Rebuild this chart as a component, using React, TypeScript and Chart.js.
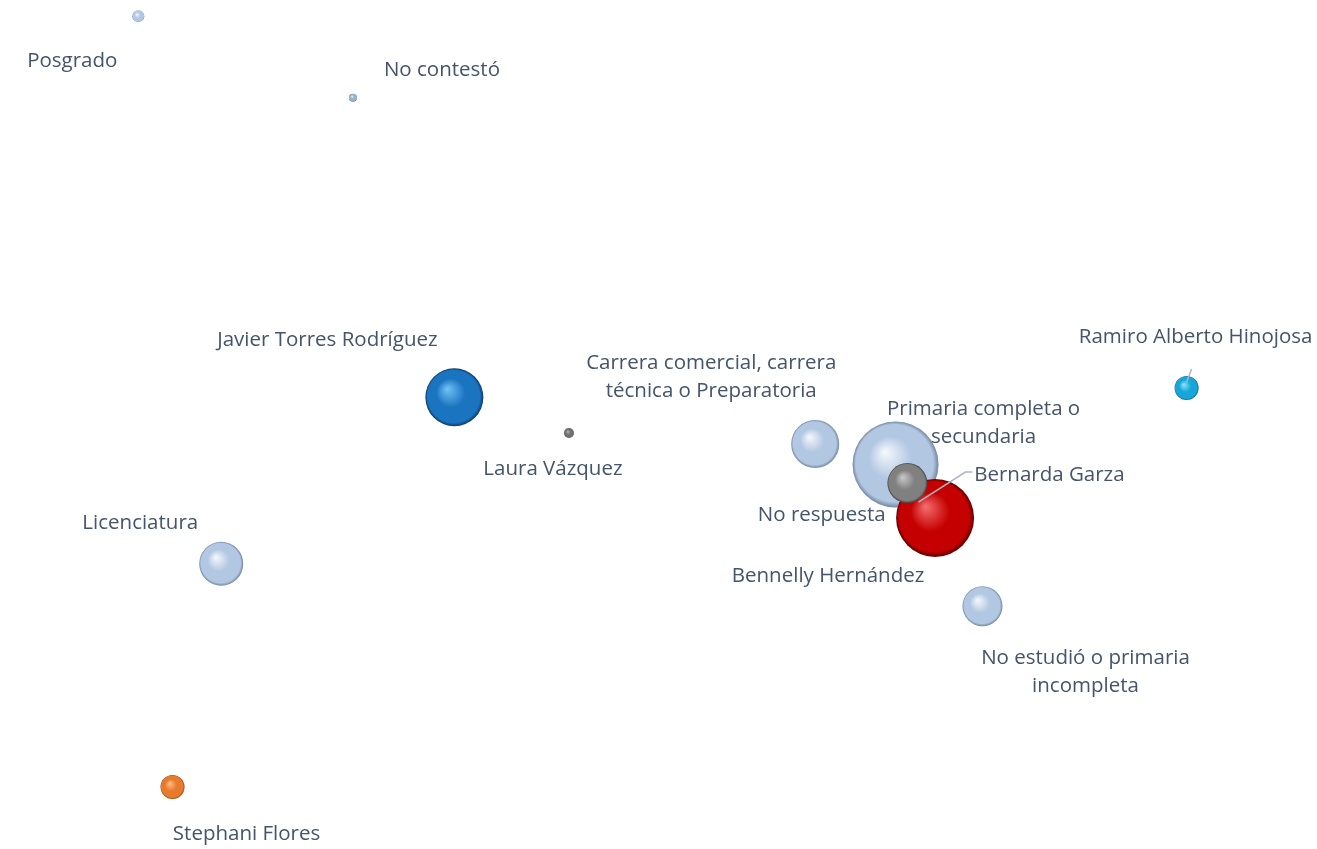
import React, { useEffect, useRef } from "react";
import { Chart, registerables } from "chart.js";

Chart.register(...registerables);

// Data (x, y in chart units 0-100; size = bubble radius)
const names = [
  "Posgrado",
  "No contestó",
  "Licenciatura",
  "Carrera comercial, carrera técnica o Preparatoria",
  "Primaria completa o secundaria",
  "No respuesta",
  "No estudió o primaria incompleta",
  "Javier Torres Rodríguez",
  "Laura Vázquez",
  "Bennelly Hernández",
  "Bernarda Garza",
  "Ramiro Alberto Hinojosa",
  "Stephani Flores",
];
const xValues = [10.5, 26.8, 16.8, 61.9, 68.0, 69.0, 74.6, 34.5, 43.2, 71.0, 68.9, 90.1, 13.1];
const yValues = [98.1, 88.5, 33.6, 47.7, 45.3, 42.9, 28.6, 53.2, 49.0, 39.0, 43.1, 54.3, 7.3];
const sizes = [6, 4, 22, 24, 43, 14, 20, 29, 5, 39, 20, 12, 12];
const colorKeys = [
  "lightblue", "smallblue", "lightblue", "lightblue", "lightblue", "lightblue", "lightblue",
  "blue", "smallgray", "red", "gray", "cyan", "orange",
];

// styling
const palettes: Record<string, [string, string, string]> = {
  lightblue: ["#F6F9FD", "#B2C7E2", "#7386A4"],
  smallblue: ["#E8EEF6", "#9AAFCB", "#5E7190"],
  blue: ["#72C4F4", "#1B74C0", "#0A3A66"],
  red: ["#F47070", "#C40000", "#5E0000"],
  gray: ["#CACACA", "#808080", "#444444"],
  smallgray: ["#B8B8B8", "#707070", "#3A3A3A"],
  cyan: ["#96E4F8", "#16A6D9", "#0A6688"],
  orange: ["#FBC08A", "#E87A2C", "#94420E"],
};

// label anchor offsets (pixels, relative to bubble centre), lines of text
const labelLayout: Record<string, { dx: number; dy: number; lines: string[] }> = {
  "Posgrado": { dx: -66, dy: 45, lines: ["Posgrado"] },
  "No contestó": { dx: 89, dy: -27, lines: ["No contestó"] },
  "Licenciatura": { dx: -81, dy: -41, lines: ["Licenciatura"] },
  "Carrera comercial, carrera técnica o Preparatoria": { dx: -104, dy: -67, lines: ["Carrera comercial, carrera", "técnica o Preparatoria"] },
  "Primaria completa o secundaria": { dx: 88, dy: -41, lines: ["Primaria completa o", "secundaria"] },
  "No respuesta": { dx: -87, dy: 30, lines: ["No respuesta"] },
  "No estudió o primaria incompleta": { dx: 103, dy: 66, lines: ["No estudió o primaria", "incompleta"] },
  "Javier Torres Rodríguez": { dx: -127, dy: -57, lines: ["Javier Torres Rodríguez"] },
  "Laura Vázquez": { dx: -16, dy: 36, lines: ["Laura Vázquez"] },
  "Bennelly Hernández": { dx: -107, dy: 58, lines: ["Bennelly Hernández"] },
  "Bernarda Garza": { dx: 142, dy: -8, lines: ["Bernarda Garza"] },
  "Ramiro Alberto Hinojosa": { dx: 9, dy: -51, lines: ["Ramiro Alberto Hinojosa"] },
  "Stephani Flores": { dx: 74, dy: 47, lines: ["Stephani Flores"] },
};

const leaderLines: Record<string, [number, number][]> = {
  "Bernarda Garza": [[11, 19], [58, -11], [65, -11]],
  "Ramiro Alberto Hinojosa": [[0, -6], [5, -19]],
};

const FONT = "20.5px 'Open Sans', 'Noto Sans', sans-serif";
const LINE_H = 28;

const spherePlugin = {
  id: "sphereShading",
  beforeDatasetsDraw(chart: any) {
    const ctx = chart.ctx;
    const meta = chart.getDatasetMeta(0);
    meta.data.forEach((el: any, i: number) => {
      const cx = el.x, cy = el.y, r = el.options.radius;
      if (![cx, cy, r].every(Number.isFinite)) return;
      const [hi, base, edge] = palettes[colorKeys[i]];
      const g = ctx.createRadialGradient(cx - r * 0.25, cy - r * 0.3, 0, cx, cy, r);
      g.addColorStop(0, hi);
      g.addColorStop(0.5, base);
      g.addColorStop(0.9, base);
      g.addColorStop(1, edge);
      el.options.backgroundColor = g;
      el.options.borderWidth = 0;
    });
  },
};

const labelPlugin = {
  id: "bubbleLabels",
  afterDatasetsDraw(chart: any) {
    const ctx = chart.ctx;
    const meta = chart.getDatasetMeta(0);
    ctx.save();
    ctx.strokeStyle = "#A9B7C9";
    ctx.lineWidth = 1.5;
    meta.data.forEach((el: any, i: number) => {
      const pts = leaderLines[names[i]];
      if (!pts) return;
      ctx.beginPath();
      pts.forEach(([dx, dy], k) => {
        if (k === 0) ctx.moveTo(el.x + dx, el.y + dy);
        else ctx.lineTo(el.x + dx, el.y + dy);
      });
      ctx.stroke();
    });
    ctx.font = FONT;
    ctx.fillStyle = "#44546A";
    ctx.textAlign = "center";
    ctx.textBaseline = "middle";
    meta.data.forEach((el: any, i: number) => {
      const lay = labelLayout[names[i]];
      if (!lay) return;
      const n = lay.lines.length;
      lay.lines.forEach((t, k) => {
        const y = el.y + lay.dy + (k - (n - 1) / 2) * LINE_H;
        ctx.fillText(t, el.x + lay.dx, y);
      });
    });
    ctx.restore();
  },
};

export default function App() {
  const ref = useRef<HTMLCanvasElement>(null);
  useEffect(() => {
    if (!ref.current) return;
    const data = names.map((_, i) => ({ x: xValues[i], y: yValues[i], r: sizes[i] }));
    const chart = new Chart(ref.current, {
      type: "bubble",
      data: {
        labels: names,
        datasets: [
          {
            label: "Series",
            data,
            borderWidth: 0,
            clip: false as any,
            backgroundColor: colorKeys.map((k) => palettes[k][1]),
          } as any,
        ],
      },
      options: {
        animation: false,
        responsive: true,
        maintainAspectRatio: false,
        layout: { padding: 0, autoPadding: false },
        plugins: { legend: { display: false }, tooltip: { enabled: false } },
        scales: {
          x: { display: false, min: 0, max: 100 },
          y: { display: false, min: 0, max: 100 },
        },
      },
      plugins: [spherePlugin, labelPlugin],
    });
    return () => chart.destroy();
  }, []);
  return (
    <div style={{ position: "absolute", left: 0, top: 0, width: 1317, height: 849, background: "#fff" }}>
      <canvas ref={ref} />
    </div>
  );
}
